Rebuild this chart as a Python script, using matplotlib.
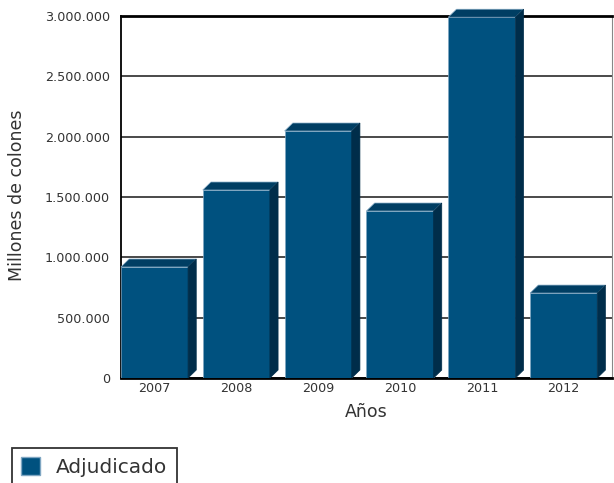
import numpy as np
import matplotlib.pyplot as plt
from matplotlib.patches import Polygon, Patch

years = ["2007", "2008", "2009", "2010", "2011", "2012"]
adjudicado = [920000, 1558000, 2047000, 1384000, 2990000, 704000]
yticks = [0, 500000, 1000000, 1500000, 2000000, 2500000, 3000000]
ytick_labels = ["0", "500.000", "1.000.000", "1.500.000", "2.000.000", "2.500.000", "3.000.000"]

front = "#00517f"
top_c = "#003e63"
side_c = "#002d4a"

fig = plt.figure(figsize=(6.14, 4.83), dpi=100)
ax = fig.add_axes([0.197, 0.2174, 0.7997, 0.7495])

w = 0.82
dx = 0.1
dy = 66000
x = np.arange(len(years)) - 0.5 + w / 2

ax.set_xlim(-0.5, 5.5)
ax.set_ylim(0, 3000000)
ax.set_yticks(yticks)
ax.set_yticklabels(ytick_labels)
ax.yaxis.grid(True, color="#3a3a3a", lw=1.3)
ax.set_axisbelow(True)

ax.bar(x, adjudicado, width=w, color=front, edgecolor="#7fa6c2", lw=0.5, zorder=3)
for xi, v in zip(x, adjudicado):
    l, r = xi - w / 2, xi + w / 2
    ax.add_patch(Polygon([(l, v), (l + dx, v + dy), (r + dx, v + dy), (r, v)],
                         closed=True, fc=top_c, ec="#7fa6c2", lw=0.5, zorder=3, clip_on=False))
    ax.add_patch(Polygon([(r, 0), (r, v), (r + dx, v + dy), (r + dx, dy)],
                         closed=True, fc=side_c, ec=side_c, lw=0.5, zorder=3, clip_on=False))

ax.set_xticks(x)
ax.set_xticklabels(years)
ax.tick_params(axis="both", length=0, labelsize=9.2, labelcolor="#333333")
ax.tick_params(axis="y", pad=8)
ax.tick_params(axis="x", pad=3)

for s in ["left", "bottom", "top"]:
    ax.spines[s].set_color("black")
    ax.spines[s].set_linewidth(2.0)
ax.spines["left"].set_linewidth(1.3)
ax.spines["right"].set_color("#888888")

ax.set_xlabel("Años", fontsize=12.5, color="#333333", labelpad=6)
fig.text(0.028, 0.595, "Millones de colones", rotation=90, fontsize=12.5,
         color="#333333", ha="center", va="center")

leg = fig.legend(handles=[Patch(fc=front, ec="#7fa6c2", label="Adjudicado")],
                 loc="upper left", bbox_to_anchor=(0.0195, 0.072), fontsize=14.5,
                 frameon=True, fancybox=False, edgecolor="black",
                 handlelength=0.95, handleheight=0.95, handletextpad=0.8,
                 borderpad=0.45, borderaxespad=0)
leg.get_frame().set_linewidth(1.3)
for t in leg.get_texts():
    t.set_color("#333333")

fig.savefig("out.png", dpi=100)
